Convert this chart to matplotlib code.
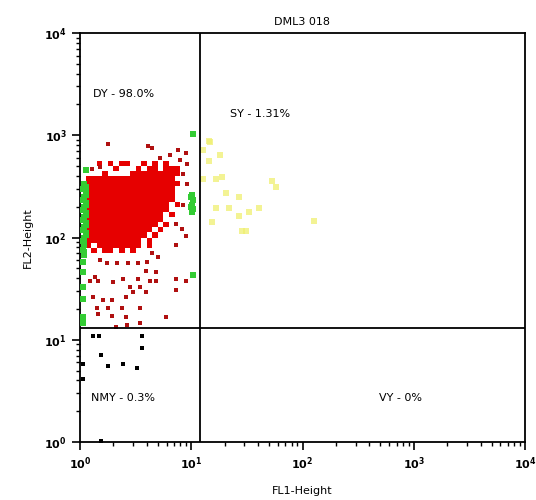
import numpy as np
import matplotlib
matplotlib.use("Agg")
import matplotlib.pyplot as plt
from matplotlib.colors import ListedColormap

# ---- data (log10 units: decades of FL1-Height / FL2-Height) ----
title = "DML3 018"
x_label = "FL1-Height"
y_label = "FL2-Height"
tick_exps = [0, 1, 2, 3, 4]
x_gate = 12.0
y_gate = 13.0
quad_labels = ["DY - 98.0%", "SY - 1.31%", "NMY - 0.3%", "VY - 0%"]
quad_pos = [(0.12, 3.40), (1.35, 3.21), (0.10, 0.43), (2.69, 0.43)]

# dense core occupancy (rows top -> bottom), x 0.05..0.90, y 2.75..1.85 decades
core_x_range = (0.05, 0.90)
core_y_range = (1.85, 2.75)
core_rows = [
    "..#.#.##..#.#.#..",
    ".....#...#.##.###",
    "...#....#########",
    "################.",
    "#################",
    "################.",
    "################.",
    "################.",
    "###############.#",
    "###############..",
    "##############.#.",
    "##############...",
    "#############.#..",
    "############.#...",
    "###########.#....",
    "##########.#.....",
    "#.########.#.....",
    ".#.##.#.#........",
]

red_x = [0.25, 0.61, 0.65, 0.95, 0.90, 0.88, 0.81, 0.72, 0.96, 0.93, 0.18, 0.11, 0.96, 0.93,
         0.18, 0.24, 0.33, 0.43, 0.52, 0.60, 0.65, 0.70, 0.86, 0.95, 0.92, 0.86,
         0.59, 0.68, 0.135, 0.09, 0.16, 0.39, 0.52, 0.63, 0.68, 0.86, 0.95,
         0.30, 0.45, 0.54, 0.86,
         0.12, 0.21, 0.29, 0.41, 0.48, 0.59,
         0.15, 0.25, 0.38, 0.54,
         0.16, 0.29, 0.41, 0.77,
         0.32, 0.42, 0.54]
red_y = [2.91, 2.89, 2.88, 2.83, 2.76, 2.86, 2.81, 2.78, 2.72, 2.62, 2.69, 2.67, 2.52, 2.32,
         1.78, 1.75, 1.75, 1.75, 1.75, 1.76, 1.85, 1.81, 1.93, 2.01, 2.08, 2.13,
         1.67, 1.66, 1.61, 1.57, 1.57, 1.59, 1.59, 1.57, 1.57, 1.59, 1.57,
         1.56, 1.52, 1.52, 1.49,
         1.42, 1.39, 1.39, 1.42, 1.47, 1.47,
         1.31, 1.31, 1.31, 1.31,
         1.25, 1.23, 1.22, 1.22,
         1.12, 1.14, 1.16]

green_x = [0.04, 0.03, 0.05, 0.04, 0.03, 0.05, 0.04, 0.03, 0.05, 0.04, 0.03, 0.05, 0.04,
           0.03, 0.05, 0.04, 0.03, 0.04, 0.03, 0.04, 0.03, 0.03, 0.03, 0.03, 0.03, 0.03,
           0.05, 0.05, 0.05, 0.05, 0.05, 0.05, 0.04, 0.04,
           1.01, 1.02, 1.01, 1.02, 1.01, 1.00, 1.00, 1.02, 0.05, 1.02]
green_y = [2.52, 2.47, 2.44, 2.40, 2.37, 2.34, 2.30, 2.27, 2.24, 2.20, 2.17, 2.14, 2.10,
           2.07, 2.04, 2.00, 1.97, 1.93, 1.88, 1.83, 1.76, 1.66, 1.52, 1.40, 1.22, 1.16,
           2.49, 2.42, 2.32, 2.22, 2.12, 2.02, 1.95, 1.86,
           2.42, 2.37, 2.32, 2.28, 2.25, 2.40, 2.30, 3.01, 2.66, 1.63]

yellow_x = [1.16, 1.17, 1.26, 1.16, 1.28, 1.22, 1.31, 1.43, 1.22, 1.34, 1.43, 1.52, 1.46,
            1.49, 1.73, 1.76, 1.61, 2.10, 1.19, 1.11, 1.11]
yellow_y = [2.94, 2.93, 2.81, 2.75, 2.59, 2.57, 2.44, 2.40, 2.29, 2.29, 2.21, 2.25, 2.06,
            2.06, 2.55, 2.49, 2.29, 2.16, 2.15, 2.86, 2.57]

black_x = [0.12, 0.17, 0.56, 0.56, 0.19, 0.25, 0.39, 0.51, 0.03, 0.03, 0.19]
black_y = [1.04, 1.04, 1.04, 0.92, 0.85, 0.74, 0.76, 0.72, 0.76, 0.62, 0.01]

# ---- figure ----
fig = plt.figure(figsize=(5.36, 5.00), dpi=100)
ax = fig.add_axes([80 / 536, 58 / 500, 445 / 536, 409 / 500])
ax.set_xscale("log")
ax.set_yscale("log")
ax.set_xlim(1, 1e4)
ax.set_ylim(1, 1e4)

# dense core
occ = np.array([[1.0 if c == "#" else np.nan for c in row] for row in core_rows])[::-1]
xe = 10 ** np.linspace(core_x_range[0], core_x_range[1], occ.shape[1] + 1)
ye = 10 ** np.linspace(core_y_range[0], core_y_range[1], occ.shape[0] + 1)
ax.pcolormesh(xe, ye, np.ma.masked_invalid(occ), cmap=ListedColormap(["#e60000"]),
              shading="flat", zorder=2)

def pw(v):
    return 10 ** np.asarray(v)

ax.scatter(pw(yellow_x), pw(yellow_y), s=14, marker="s", color="#f0f070", alpha=0.75,
           linewidths=0, zorder=2)
ax.scatter(pw(green_x), pw(green_y), s=14, marker="s", color="#33cc33", linewidths=0, zorder=3)
ax.scatter(pw(red_x), pw(red_y), s=12, marker="s", color="#b01010", linewidths=0, zorder=3)
ax.scatter(pw(black_x), pw(black_y), s=10, marker="s", color="black", linewidths=0, zorder=3)

ax.axvline(x_gate, color="black", lw=1.3, zorder=4)
ax.axhline(y_gate, color="black", lw=1.3, zorder=4)

for txt, (lx, ly) in zip(quad_labels, quad_pos):
    ax.text(10 ** lx, 10 ** ly, txt, fontsize=8, ha="left", va="center", zorder=5)

ticks = [10.0 ** e for e in tick_exps]
ax.set_xticks(ticks)
ax.set_yticks(ticks)
ax.set_xticklabels([rf"$\mathbf{{10^{{{e}}}}}$" for e in tick_exps], fontsize=8)
ax.set_yticklabels([rf"$\mathbf{{10^{{{e}}}}}$" for e in tick_exps], fontsize=8)
ax.tick_params(which="major", direction="out", length=6, width=1.2, top=False, right=False)
ax.tick_params(which="minor", direction="out", length=3, width=1.0, top=False, right=False)
for s in ax.spines.values():
    s.set_linewidth(1.3)

ax.set_title(title, fontsize=8, pad=6)
ax.set_xlabel(x_label, fontsize=8, labelpad=10)
ax.set_ylabel(y_label, fontsize=8, labelpad=8)

fig.savefig("out.png", dpi=100)
